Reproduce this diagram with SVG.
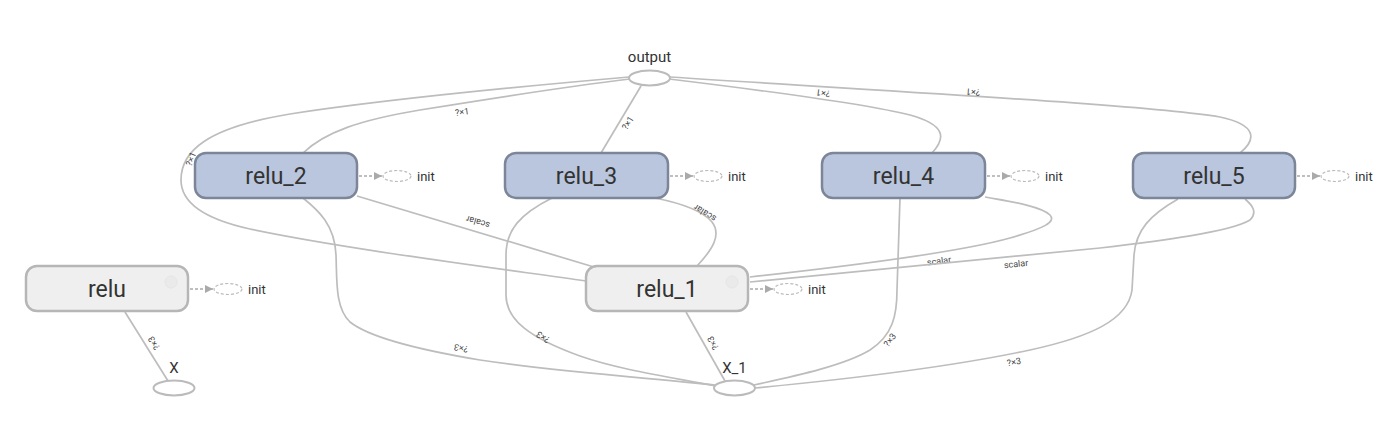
<svg xmlns="http://www.w3.org/2000/svg" width="1390" height="440" viewBox="0 0 1390 440">
<style>
.edge{fill:none;stroke:#bdbdbd;stroke-width:1.7}
.lbl{font-family:Roboto,"Liberation Sans",sans-serif;font-size:9px;fill:#444;text-anchor:middle;dominant-baseline:central}
.blue{fill:#b9c6dd;stroke:#7c8698;stroke-width:2.5}
.gray{fill:#efefef;stroke:#b6b6b6;stroke-width:2.5}
.name{font-family:Roboto,"Liberation Sans",sans-serif;font-size:23px;fill:#333;text-anchor:middle}
.io{fill:#fff;stroke:#bbb;stroke-width:2}
.ioname{font-family:Roboto,"Liberation Sans",sans-serif;font-size:15px;fill:#333;text-anchor:middle}
.dash{fill:none;stroke:#aaa;stroke-width:1.5;stroke-dasharray:3 2}
.initE{fill:#fff;stroke:#bbb;stroke-width:1.2;stroke-dasharray:3 2}
.init{font-family:Roboto,"Liberation Sans",sans-serif;font-size:13px;fill:#333}
.btn{fill:#e9e9e9;stroke:#e2e2e2;stroke-width:1;opacity:0.7}
</style>
<defs>
<marker id="arr" viewBox="0 0 10 10" refX="10" refY="5" markerWidth="9" markerHeight="8" markerUnits="userSpaceOnUse" orient="auto">
<path d="M0,0 L10,5 L0,10 z" fill="#aaa"/>
</marker>
<g id="initT">
<path class="dash" d="M2,0 L25,0" marker-end="url(#arr)"/>
<ellipse class="initE" cx="40" cy="0" rx="14" ry="5.5"/>
<text class="init" x="60" y="4.5">init</text>
</g>
</defs>

<g id="connectors">
<!-- relu_1 -> output (outer loop) -->
<path class="edge" d="M586,281 C480,266 340,248 250,229 C200,218 181,200 181,180 C181,152 205,128 290,114 C400,97 560,83 629,77"/>
<text class="lbl" transform="translate(191,159) rotate(-68)">?×1</text>
<!-- relu_2 -> output -->
<path class="edge" d="M303,153 C325,132 360,120 420,110 C500,97 580,85 630,79"/>
<text class="lbl" transform="translate(462,112) rotate(-8)">?×1</text>
<!-- relu_3 -> output -->
<path class="edge" d="M601,153 L641,86"/>
<text class="lbl" transform="translate(628,123) rotate(-58)">?×1</text>
<!-- relu_4 -> output -->
<path class="edge" d="M932,153 C946,138 946,125 910,115 C870,105 760,90 669,79"/>
<text class="lbl" transform="translate(823,93) rotate(188.5)">?×1</text>
<!-- relu_5 -> output -->
<path class="edge" d="M1240,153 C1256,140 1258,125 1220,117 C1150,105 900,92 670,77"/>
<text class="lbl" transform="translate(973,92) rotate(184.5)">?×1</text>
<!-- relu_1 -> relu_2 -->
<path class="edge" d="M594,267 L357,196"/>
<text class="lbl" transform="translate(478,222) rotate(196.7)">scalar</text>
<!-- relu_1 -> relu_3 -->
<path class="edge" d="M697,266 C712,250 722,235 712,222 C702,210 680,203 655,198"/>
<text class="lbl" transform="translate(705,213) rotate(212)">scalar</text>
<!-- relu_1 -> relu_4 -->
<path class="edge" d="M750,277 C850,266 960,252 1010,238 C1045,228 1056,222 1050,215 C1040,205 1000,200 985,197"/>
<text class="lbl" transform="translate(939,261) rotate(-7)">scalar</text>
<!-- relu_1 -> relu_5 -->
<path class="edge" d="M750,282 L1100,248 C1160,241 1230,232 1250,220 C1258,212 1252,205 1245,199"/>
<text class="lbl" transform="translate(1016,264) rotate(-5.5)">scalar</text>
<!-- X_1 -> relu_1 -->
<path class="edge" d="M725,381 L686,312"/>
<text class="lbl" transform="translate(713,343) rotate(240.5)">?×3</text>
<!-- X -> relu -->
<path class="edge" d="M168,381 L125,312"/>
<text class="lbl" transform="translate(154,343) rotate(238)">?×3</text>
<!-- X_1 -> relu_2 -->
<path class="edge" d="M715,385 C650,378 560,372 480,360 C420,350 370,338 350,322 C335,308 337,280 336,255 C335,225 318,210 303,198"/>
<text class="lbl" transform="translate(461,348) rotate(191)">?×3</text>
<!-- X_1 -> relu_3 -->
<path class="edge" d="M716,386 C670,377 620,370 580,356 C530,338 506,320 506,295 L506,255 C506,230 520,214 552,198"/>
<text class="lbl" transform="translate(543,337) rotate(213)">?×3</text>
<!-- X_1 -> relu_4 -->
<path class="edge" d="M754,385 C800,375 845,365 870,350 C893,335 897,315 897,290 L900,198"/>
<text class="lbl" transform="translate(890,340) rotate(-52)">?×3</text>
<!-- X_1 -> relu_5 -->
<path class="edge" d="M755,388 C860,378 960,365 1030,350 C1090,337 1128,320 1132,290 L1134,255 C1136,230 1150,215 1178,199"/>
<text class="lbl" transform="translate(1014,362) rotate(-10)">?×3</text>
</g>

<g id="output">
<text class="ioname" x="649.5" y="62">output</text>
<ellipse class="io" cx="649.5" cy="78" rx="20.5" ry="7.5"/>
</g>

<g id="relu_2">
<rect class="blue" x="195" y="153" width="162" height="45" rx="11"/>
<text class="name" x="276" y="184">relu_2</text>
<use href="#initT" x="357" y="176"/>
</g>

<g id="relu_3">
<rect class="blue" x="505" y="153" width="163" height="45" rx="11"/>
<text class="name" x="586.5" y="184">relu_3</text>
<use href="#initT" x="668" y="176"/>
</g>

<g id="relu_4">
<rect class="blue" x="822" y="153" width="163" height="45" rx="11"/>
<text class="name" x="903.5" y="184">relu_4</text>
<use href="#initT" x="985" y="176"/>
</g>

<g id="relu_5">
<rect class="blue" x="1133" y="153" width="162" height="45" rx="11"/>
<text class="name" x="1214" y="184">relu_5</text>
<use href="#initT" x="1295" y="176"/>
</g>

<g id="relu">
<rect class="gray" x="26" y="266" width="162" height="45" rx="11"/>
<circle class="btn" cx="171" cy="282" r="6"/>
<text class="name" x="107" y="297">relu</text>
<use href="#initT" x="188" y="289"/>
</g>

<g id="relu_1">
<rect class="gray" x="586" y="266" width="162" height="45" rx="11"/>
<circle class="btn" cx="732" cy="282" r="6"/>
<text class="name" x="667" y="297">relu_1</text>
<use href="#initT" x="748" y="289"/>
</g>

<g id="X">
<text class="ioname" x="174" y="373">X</text>
<ellipse class="io" cx="174" cy="388" rx="20.5" ry="7.5"/>
</g>

<g id="X_1">
<text class="ioname" x="734.5" y="373">X_1</text>
<ellipse class="io" cx="734.5" cy="388" rx="20.5" ry="7.5"/>
</g>
</svg>
